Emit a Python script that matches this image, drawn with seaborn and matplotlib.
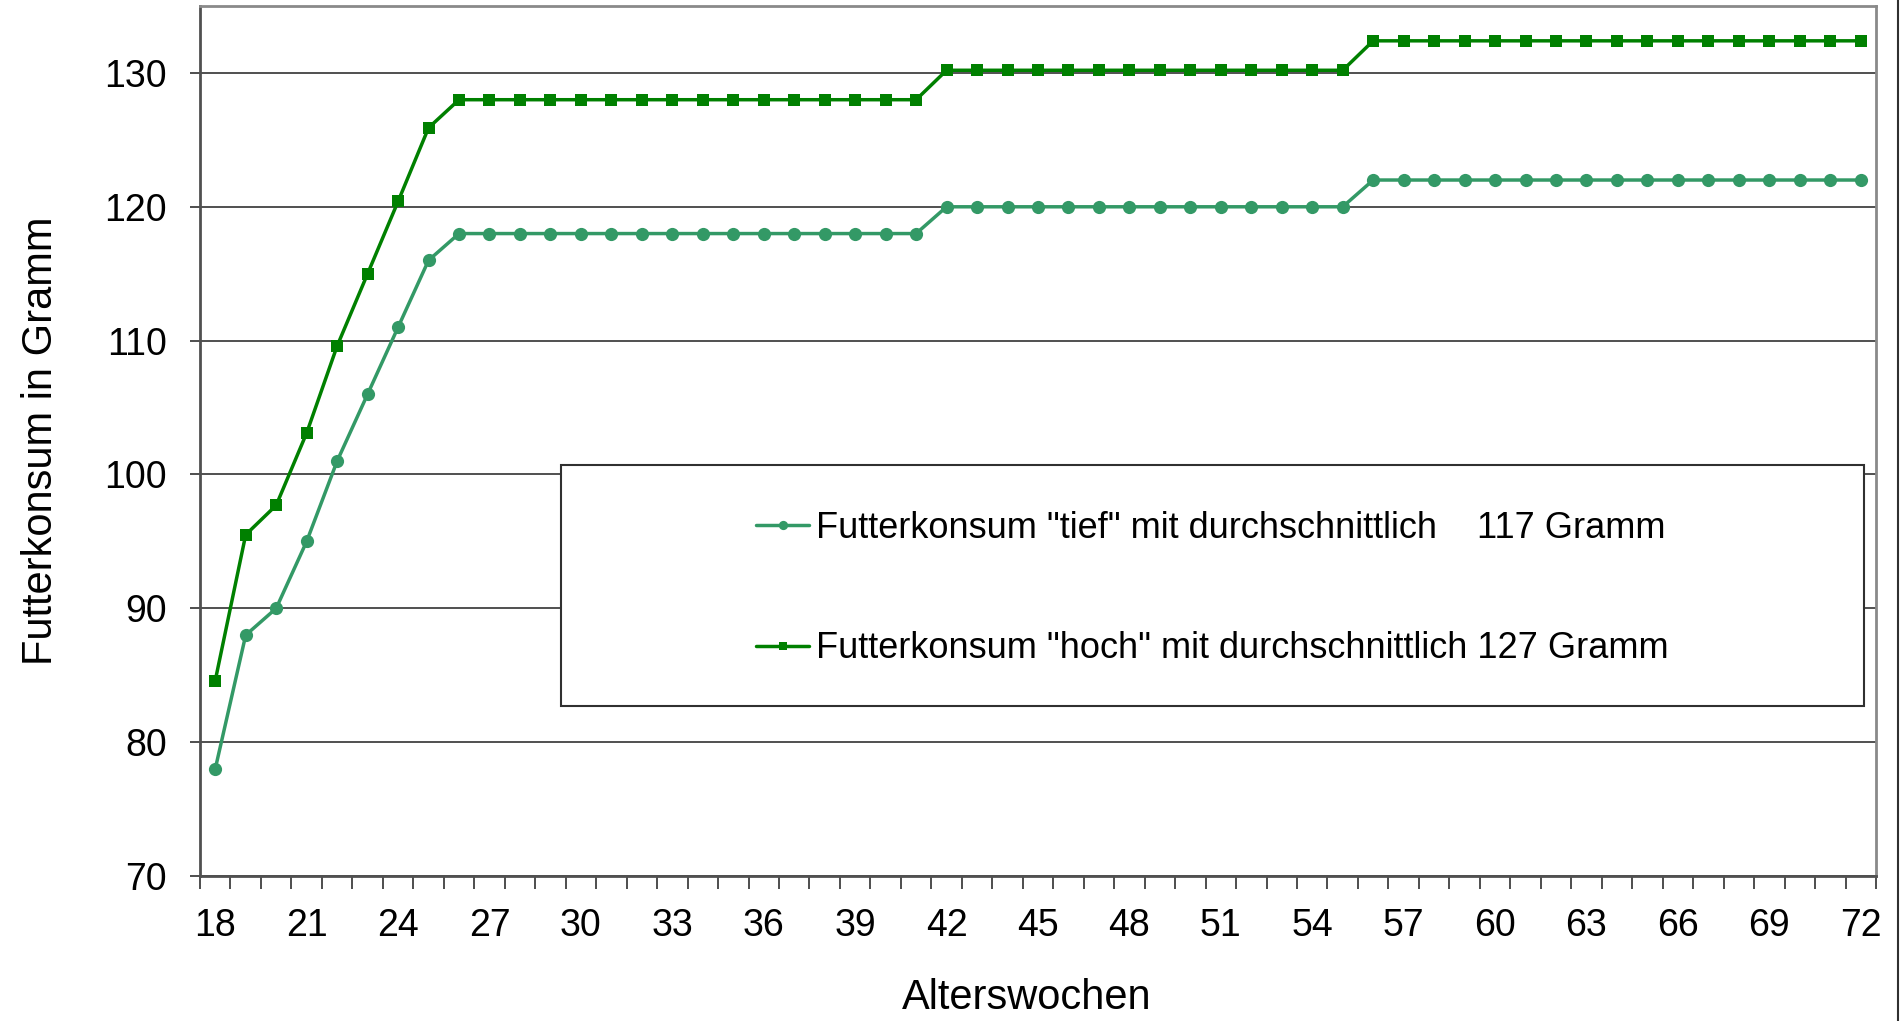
import matplotlib
matplotlib.use("Agg")
import matplotlib.pyplot as plt
import seaborn as sns
import numpy as np
import pandas as pd
from matplotlib.patches import Rectangle
from matplotlib.lines import Line2D
from matplotlib.ticker import FixedLocator, NullFormatter

weeks = list(range(18, 73))

tief = [78, 88, 90, 95, 101, 106, 111, 116,
        118, 118, 118, 118, 118, 118, 118, 118, 118, 118, 118, 118, 118, 118, 118, 118,
        120, 120, 120, 120, 120, 120, 120, 120, 120, 120, 120, 120, 120, 120,
        122, 122, 122, 122, 122, 122, 122, 122, 122, 122, 122, 122, 122, 122, 122, 122, 122]

hoch = [84.6, 95.5, 97.7, 103.1, 109.6, 115.0, 120.4, 125.9,
        128.0, 128.0, 128.0, 128.0, 128.0, 128.0, 128.0, 128.0, 128.0, 128.0, 128.0, 128.0, 128.0, 128.0, 128.0, 128.0,
        130.2, 130.2, 130.2, 130.2, 130.2, 130.2, 130.2, 130.2, 130.2, 130.2, 130.2, 130.2, 130.2, 130.2,
        132.4, 132.4, 132.4, 132.4, 132.4, 132.4, 132.4, 132.4, 132.4, 132.4, 132.4, 132.4, 132.4, 132.4, 132.4, 132.4, 132.4]

label_tief = 'Futterkonsum "tief" mit durchschnittlich    117 Gramm'
label_hoch = 'Futterkonsum "hoch" mit durchschnittlich 127 Gramm'

sns.set_style("white")
plt.rcParams['font.family'] = ['Liberation Sans', 'DejaVu Sans']
plt.rcParams['text.color'] = 'black'
plt.rcParams['axes.labelcolor'] = 'black'
plt.rcParams['xtick.color'] = 'black'
plt.rcParams['ytick.color'] = 'black'

df = pd.DataFrame({'week': weeks, 'tief': tief, 'hoch': hoch})

fig, ax = plt.subplots(figsize=(19.03, 10.21), dpi=100)
fig.subplots_adjust(left=0.1051, right=0.9858, top=0.9941, bottom=0.142)

sns.lineplot(data=df, x='week', y='tief', ax=ax, color='#339966', linewidth=2.5,
             marker='o', markersize=9.5, markeredgewidth=0, label=label_tief, zorder=3)
sns.lineplot(data=df, x='week', y='hoch', ax=ax, color='#008000', linewidth=2.5,
             marker='s', markersize=9, markeredgewidth=0, label=label_hoch, zorder=3)

ax.set_xlim(17.5, 72.5)
ax.set_ylim(70, 135)

# y axis
ax.set_yticks(np.arange(70, 131, 10))
ax.yaxis.grid(True, color='#202020', linewidth=1.1)
ax.set_axisbelow(True)
ax.tick_params(axis='y', direction='out', length=7, width=1.2, color='#303030',
               labelsize=27, pad=17, left=True, labelcolor='black')

# x axis: tick marks between categories, labels at centers every 3 weeks
ax.xaxis.set_major_locator(FixedLocator(np.arange(17.5, 73, 1)))
ax.xaxis.set_major_formatter(NullFormatter())
ax.xaxis.set_minor_locator(FixedLocator(np.arange(18, 73, 3)))
ax.set_xticklabels([str(w) for w in range(18, 73, 3)], minor=True)
ax.tick_params(axis='x', which='major', direction='out', length=9.5, width=1.2,
               color='#303030', bottom=True)
ax.tick_params(axis='x', which='minor', length=0, labelsize=27, pad=23, bottom=True,
               labelcolor='black')

for side in ['left', 'bottom']:
    ax.spines[side].set_color('#505050')
    ax.spines[side].set_linewidth(2)
for side in ['top', 'right']:
    ax.spines[side].set_color('#8a8a8a')
    ax.spines[side].set_linewidth(2)

ax.set_xlabel('Alterswochen', fontsize=30)
ax.set_ylabel('Futterkonsum in Gramm', fontsize=30)
ax.xaxis.set_label_coords(0.4934, -0.117)
ax.yaxis.set_label_coords(-0.083, 0.5)

# legend box
box = Rectangle((0.2154, 0.1954), 0.7774, 0.277, transform=ax.transAxes,
                facecolor='white', edgecolor='#303030', linewidth=1.5, zorder=4)
ax.add_patch(box)
leg = ax.legend(loc='center', bbox_to_anchor=(0.6041, 0.3304), frameon=False,
                fontsize=26, handlelength=1.45, handletextpad=0.2,
                labelspacing=2.37, markerscale=0.7)
leg.set_zorder(5)

# thin border line at the right edge of the figure
fig.add_artist(Line2D([0.9975, 0.9975], [0, 1], transform=fig.transFigure,
                      color='#303030', linewidth=1.5))

fig.savefig('out.png', dpi=100)
